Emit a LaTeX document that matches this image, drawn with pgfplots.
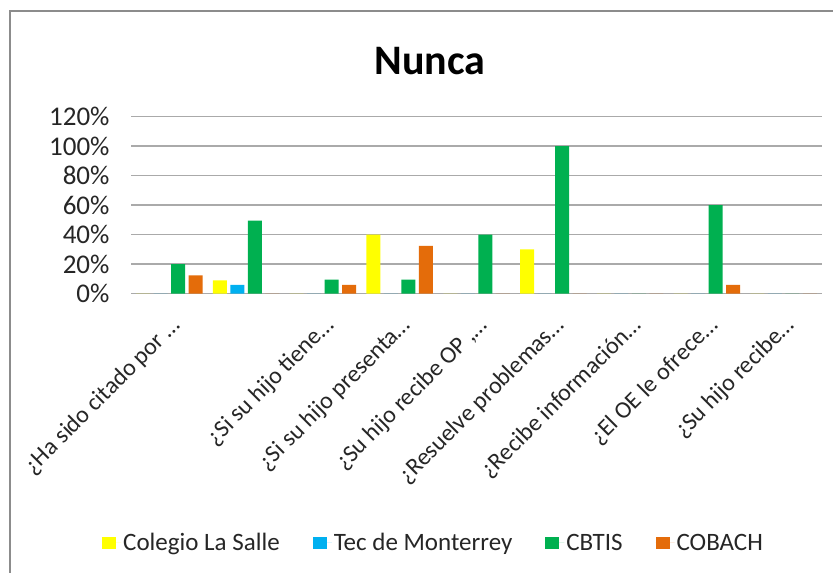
\documentclass[border=0pt]{standalone}
\usepackage{pgfplots}
\pgfplotsset{compat=1.18}
\usepackage{fontspec}
\setmainfont{Carlito}
\definecolor{cYel}{HTML}{FFFF00}
\definecolor{cBlu}{HTML}{00B0F0}
\definecolor{cGrn}{HTML}{00B050}
\definecolor{cOrg}{HTML}{E46C0A}
\definecolor{cGrid}{RGB}{170,170,170}
\definecolor{cFrame}{RGB}{140,140,140}
\newcommand{\tf}{\fontsize{25bp}{30bp}\selectfont}
\begin{document}
\begin{tikzpicture}[x=1bp,y=1bp]
\useasboundingbox (0,0) rectangle (833,573);
\fill[white] (0,0) rectangle (833,573);
\draw[cFrame, line width=2bp] (10,-20) -- (10,562) -- (850,562);
\node[font=\fontsize{42bp}{50bp}\selectfont\bfseries] at (430,512) {Nunca};
\begin{axis}[
  at={(131bp,279.3bp)}, anchor=south west,
  width=691bp, height=177bp, scale only axis,
  ymin=0, ymax=120, ytick={0,20,40,60,80,100,120},
  xmin=-0.5, xmax=8.5, xtick={0,1,2,3,4,5,6,7,8},
  xticklabels={{¿Ha sido citado por …},{},{¿Si su hijo tiene…},{¿Si su hijo presenta…},{¿Su hijo recibe OP ,…},{¿Resuelve problemas…},{¿Recibe información…},{¿El OE le ofrece…},{¿Su hijo recibe…}},
  ybar=3.5bp, bar width=14bp,
  ymajorgrids, grid style={line width=1.5bp, color=cGrid},
  axis line style={draw=none}, major tick length=0,
  tick label style={text=black!85},
  /pgf/number format/assume math mode=true,
  yticklabel={\pgfmathprintnumber{\tick}\%},
  yticklabel style={font=\fontsize{27bp}{32bp}\selectfont, xshift=-18bp},
  xticklabel style={font=\fontsize{24bp}{29bp}\selectfont, xshift=10bp, yshift=-26bp, rotate=45, anchor=east},
  legend style={at={(0.4378,-1.408)}, anchor=center, draw=none, fill=none,
    legend columns=4, font=\tf, text=black!85,
    /tikz/every even column/.append style={column sep=31bp}},
  legend image code/.code={\fill[#1] (0bp,-6bp) rectangle (14bp,6bp); \path (0bp,0bp) -- (19bp,0bp);},
]
\addplot[fill=cYel, draw=none] coordinates {(0,0) (1,9.1) (2,0) (3,40) (4,0) (5,30) (6,0) (7,0) (8,0)};
\addplot[fill=cBlu, draw=none] coordinates {(0,0) (1,5.9) (2,0) (3,0) (4,0) (5,0) (6,0) (7,0) (8,0)};
\addplot[fill=cGrn, draw=none] coordinates {(0,20) (1,49.5) (2,9.5) (3,9.5) (4,40) (5,100) (6,0) (7,60) (8,0)};
\addplot[fill=cOrg, draw=none] coordinates {(0,12.5) (1,0) (2,5.9) (3,32.5) (4,0) (5,0) (6,0) (7,5.9) (8,0)};
\legend{Colegio La Salle, Tec de Monterrey, CBTIS, COBACH}
\end{axis}
\end{tikzpicture}
\end{document}
